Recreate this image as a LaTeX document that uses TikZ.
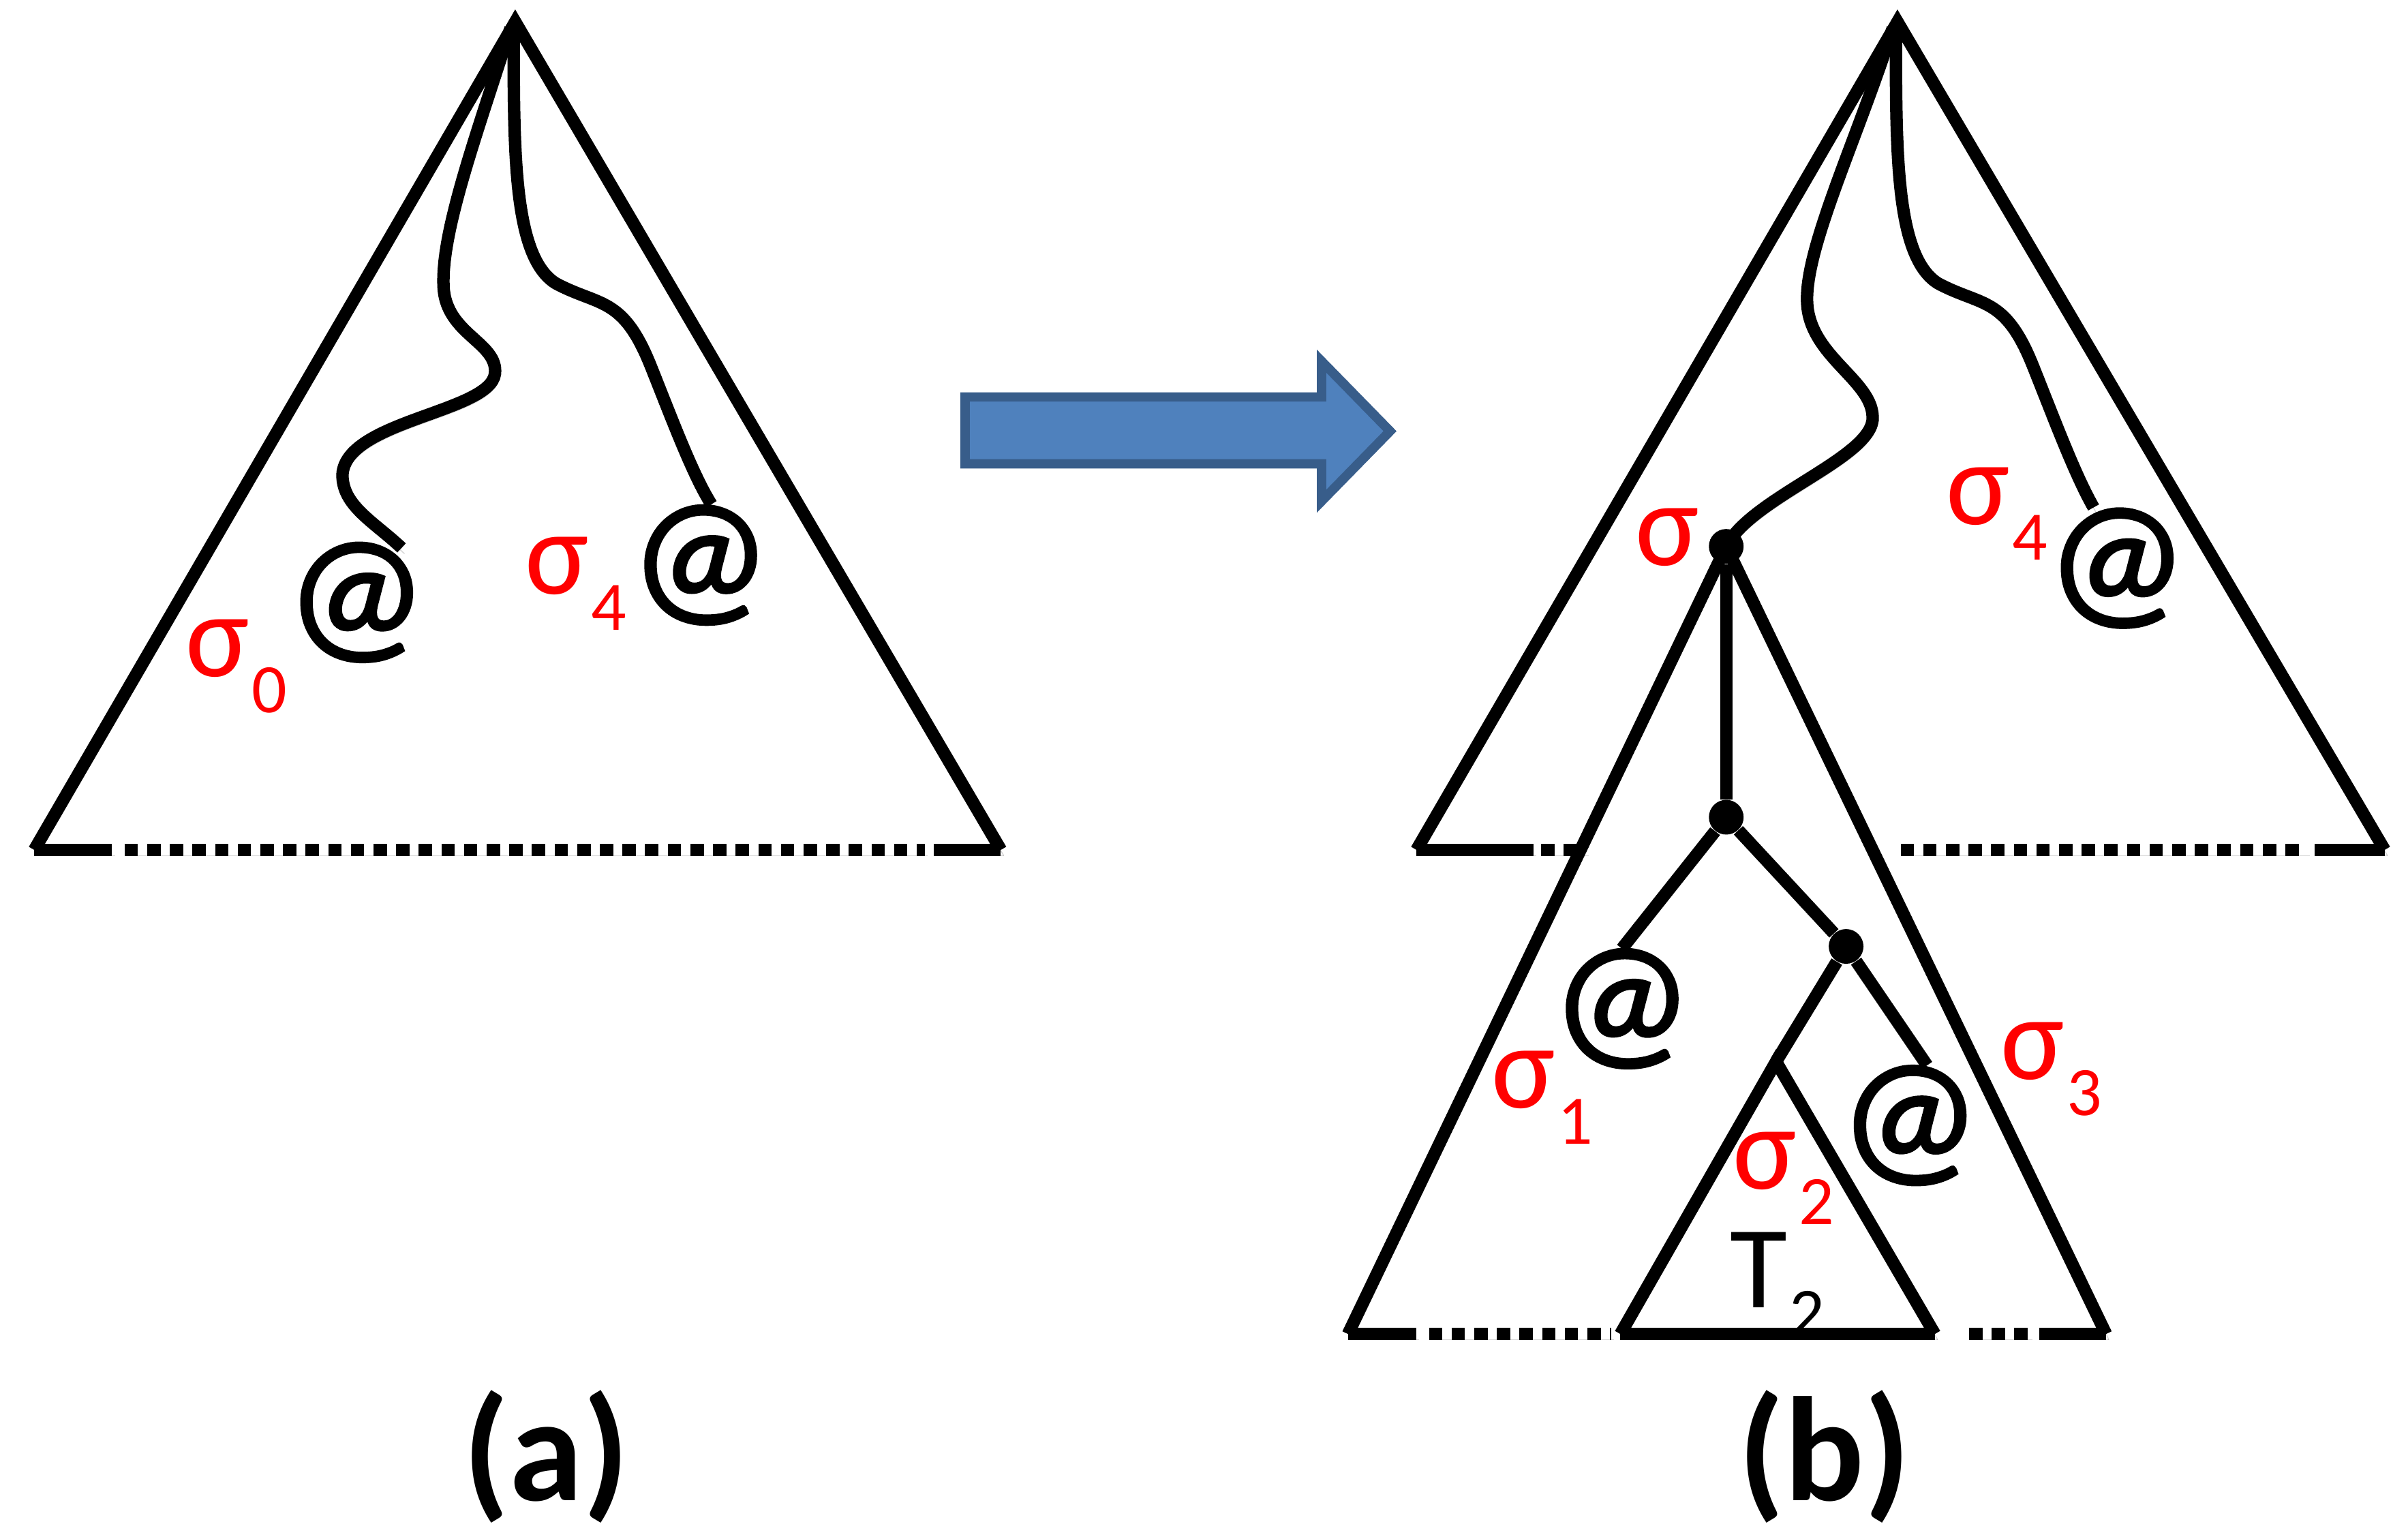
\documentclass[tikz,border=0pt]{standalone}
\usepackage{fontspec}
\setmainfont{Carlito}
\newfontfamily\atfont[FakeBold=1.6]{Carlito}
\usetikzlibrary{calc}
\definecolor{arrowfill}{HTML}{4F81BD}
\definecolor{arrowline}{HTML}{385D8A}
\tikzset{
	soft shadow/.style={preaction={draw=black, draw opacity=.16, transform canvas={xshift=1.2pt, yshift=-2.4pt}}},
	tree line/.style={line width=5.2pt, black, line join=miter, soft shadow},
	solid base/.style={line width=5.2pt, black, soft shadow},
	dash base/.style={line width=5.2pt, black, dash pattern=on 5.6pt off 3.85pt, soft shadow},
	at sign/.style={inner sep=0pt, font=\fontsize{66}{70}\selectfont\atfont},
	sigma label/.style={inner sep=0pt, text=red, font=\fontsize{50}{55}\selectfont},
	caption label/.style={inner sep=0pt, font=\fontsize{62}{68}\selectfont\bfseries},
	tree dot/.style={circle, fill=black, inner sep=0pt, minimum size=14.5pt}
}
\newcommand{\sigmalabel}[1]{σ\hspace{1pt}\raisebox{-15pt}{\fontsize{29}{32}\selectfont #1}}
\begin{document}
\begin{tikzpicture}[x=.02284cm, y=-.02284cm]
	\useasboundingbox (0,0) rectangle (1547,987);
%
	% left tree
	\coordinate (aTop) at (331,14);
	\coordinate (aLeft) at (22,546);
	\coordinate (aRight) at (643,546);
	\draw[tree line] (aLeft) -- (aTop) -- (aRight);
	\draw[solid base] (aLeft) -- (72,546) (600,546) -- (aRight);
	\draw[dash base] (80,546) -- (594,546);
	\coordinate (pathEndA) at (258,352);
	\coordinate (pathEndB) at (457,324);
	\draw[tree line] (328,18) .. controls (305,90) and (283,150) .. (285,185)
		.. controls (287,215) and (320,220) .. (318,240)
		.. controls (315,265) and (222,270) .. (220,305)
		.. controls (220,325) and (240,335) .. (pathEndA);
	\draw[tree line] (330,20) .. controls (330,100) and (330,165) .. (357,182)
		.. controls (385,197) and (400,190) .. (418,235)
		.. controls (432,270) and (445,305) .. (pathEndB);
	\node[at sign] (atA) at (229,387) {@};
	\node[at sign] (atB) at (450,363) {@};
	\node[sigma label] (sigZero) at (152,428) {\sigmalabel{0}};
	\node[sigma label] (sigFourA) at (370,375) {\sigmalabel{4}};
%
	% arrow
	\draw[line width=3.9pt, arrowline, fill=arrowfill] (620,255) -- (849,255) -- (849,232) -- (893,277) -- (849,322) -- (849,298) -- (620,298) -- cycle;
%
	% right tree
	\coordinate (bTop) at (1219,14);
	\coordinate (bLeft) at (910,546);
	\coordinate (bRight) at (1532,546);
	\draw[tree line] (bLeft) -- (bTop) -- (bRight);
	\draw[solid base] (bLeft) -- (985,546) (1487,546) -- (bRight);
	\draw[dash base] (990,546) -- (1019,546);
	\draw[dash base] (1221,546) -- (1482,546);
	\node[tree dot] (sigNode) at (1109,351) {};
	\node[tree dot] (midNode) at (1109,525) {};
	\node[tree dot] (lowNode) at (1186,608) {};
	\coordinate (cLeft) at (866,857);
	\coordinate (cRight) at (1353,857);
	\coordinate (dTop) at (1141,682);
	\coordinate (dLeft) at (1041,857);
	\coordinate (dRight) at (1243,857);
	\draw[tree line] (cLeft) -- (sigNode.center) -- (cRight);
	\draw[solid base] (cLeft) -- (910,857) (1310,857) -- (cRight);
	\draw[dash base] (918,857) -- (1035,857);
	\draw[dash base] (1265,857) -- (1304,857);
	\draw[tree line] (dLeft) -- (dTop) -- (dRight);
	\draw[solid base] (dLeft) -- (dRight);
	\coordinate (pathEndC) at (1345,326);
	\draw[tree line] (1216,18) .. controls (1193,90) and (1159,160) .. (1161,195)
		.. controls (1163,230) and (1205,245) .. (1203,270)
		.. controls (1200,295) and (1125,320) .. (sigNode.center);
	\draw[tree line] (1218,20) .. controls (1218,100) and (1218,165) .. (1245,182)
		.. controls (1273,197) and (1288,190) .. (1306,235)
		.. controls (1320,270) and (1333,305) .. (pathEndC);
	\node[at sign] (atC) at (1360,365) {@};
	\node[at sign] (atD) at (1042,648) {@};
	\node[at sign] (atE) at (1227,723) {@};
	\draw[tree line] (sigNode) -- (midNode);
	\draw[tree line] (midNode) -- (atD.north);
	\draw[tree line] (midNode) -- (lowNode);
	\draw[tree line] (lowNode) -- (dTop);
	\draw[tree line] (lowNode) -- ($(atE.north)+(11,0)$);
	\node[sigma label] (sigTop) at (1071,345) {σ};
	\node[sigma label] (sigFourB) at (1283,330) {\sigmalabel{4}};
	\node[sigma label] (sigOne) at (991,705) {\sigmalabel{1}};
	\node[sigma label] (sigTwo) at (1146,757) {\sigmalabel{2}};
	\node[sigma label] (sigThree) at (1318,687) {\sigmalabel{3}};
	\node[inner sep=0pt, font=\fontsize{49}{50}\selectfont] (treeName) at (1142,825) {T\hspace{1pt}\raisebox{-12pt}{\fontsize{29}{32}\selectfont 2}};
%
	\node[caption label] (capA) at (351,936) {(a)};
	\node[caption label] (capB) at (1172,936) {(b)};
\end{tikzpicture}
\end{document}
